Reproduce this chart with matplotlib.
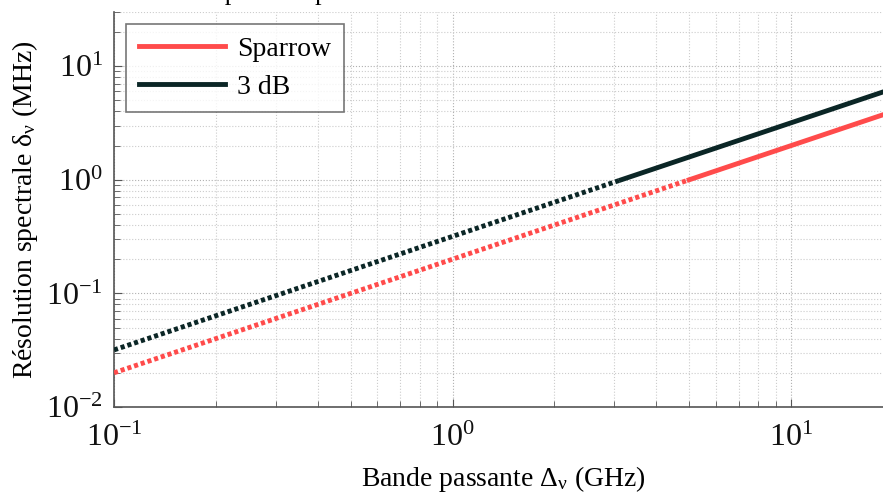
import math

import matplotlib
matplotlib.use("Agg")
import matplotlib.pyplot as plt
from matplotlib.ticker import LogLocator, FuncFormatter

plt.rcParams["font.family"] = ["Liberation Serif", "DejaVu Serif"]
plt.rcParams["mathtext.fontset"] = "custom"
plt.rcParams["mathtext.rm"] = "Liberation Serif"
plt.rcParams["mathtext.it"] = "Liberation Serif"

# bande passante (GHz) -> resolution spectrale (MHz)
sparrow_dot_x = [0.1, 5.0]
sparrow_dot_y = [0.02, 1.0]
sparrow_x = [5.0, 20.0]
sparrow_y = [1.0, 4.0]

db3_dot_x = [0.1, 3.15]
db3_dot_y = [0.0318, 1.0]
db3_x = [3.15, 20.0]
db3_y = [1.0, 6.35]

red = "#ff4b4b"
dark = "#0b2626"

fig = plt.figure(figsize=(8.83, 4.98), dpi=100)
ax = fig.add_axes([114 / 883, 91 / 498, 779 / 883, 395 / 498])

dots = (0, (0.85, 0.6))
ax.plot(sparrow_dot_x, sparrow_dot_y, color=red, lw=3.5, ls=dots,
        dash_capstyle="butt", zorder=3)
ax.plot(sparrow_x, sparrow_y, color=red, lw=3.5, label="Sparrow", zorder=3)
ax.plot(db3_dot_x, db3_dot_y, color=dark, lw=3.5, ls=dots,
        dash_capstyle="butt", zorder=3)
ax.plot(db3_x, db3_y, color=dark, lw=3.5, label="3 dB", zorder=3)

ax.set_xscale("log")
ax.set_yscale("log")
ax.set_xlim(0.1, 20)
ax.set_ylim(0.01, 30)

ax.xaxis.set_major_locator(LogLocator(base=10, numticks=10))
ax.yaxis.set_major_locator(LogLocator(base=10, numticks=10))
ax.xaxis.set_minor_locator(LogLocator(base=10, subs=range(2, 10), numticks=20))
ax.yaxis.set_minor_locator(LogLocator(base=10, subs=range(2, 10), numticks=20))

fmt = FuncFormatter(lambda v, p: r"$10^{%d}$" % round(math.log10(v)))
ax.xaxis.set_major_formatter(fmt)
ax.yaxis.set_major_formatter(fmt)

ax.grid(True, which="major", ls=":", color="#b0b0b0", lw=0.8)
ax.grid(True, which="minor", ls=":", color="#cccccc", lw=0.8)
ax.set_axisbelow(True)

for s in ("top", "right"):
    ax.spines[s].set_visible(False)
for s in ("left", "bottom"):
    ax.spines[s].set_color("#555555")
    ax.spines[s].set_linewidth(1.2)

ax.tick_params(which="both", direction="in", colors="#555555",
               labelcolor="#111111", labelsize=23)
ax.tick_params(which="major", length=6)
ax.tick_params(which="minor", length=4)
ax.tick_params(axis="x", which="major", pad=12)
ax.tick_params(axis="y", which="major", pad=8)

ax.set_xlabel(r"Bande passante $\Delta_{\nu}$ (GHz)", fontsize=20, labelpad=8)
ax.set_ylabel(r"Résolution spectrale $\delta_{\nu}$ (MHz)", fontsize=20, labelpad=4)

leg = ax.legend(loc="upper left", fontsize=20, frameon=True, fancybox=False,
                handlelength=3.1, handletextpad=0.45, borderpad=0.45,
                labelspacing=0.45, borderaxespad=0,
                bbox_to_anchor=(0.0155, 0.97))
leg.get_frame().set_edgecolor("#555555")
leg.get_frame().set_linewidth(1.2)

fig.text(0.105, 1.0, "Résolution spectrale pour différentes définitions",
         fontsize=19, va="baseline", ha="left")

fig.savefig("out.png", dpi=100)
